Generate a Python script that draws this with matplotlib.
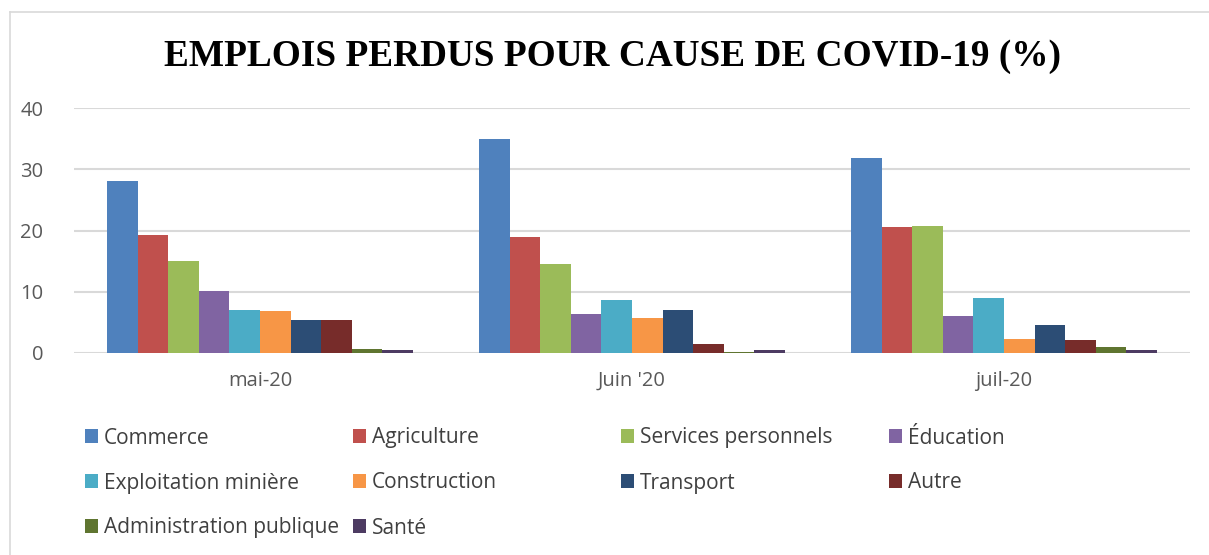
import numpy as np
import matplotlib.pyplot as plt
from matplotlib.lines import Line2D

# data
months = ["mai-20", "Juin '20", "juil-20"]
sectors = ["Commerce", "Agriculture", "Services personnels", "Éducation",
           "Exploitation minière", "Construction", "Transport", "Autre",
           "Administration publique", "Santé"]
commerce = [28.1, 34.9, 31.8]
agriculture = [19.3, 18.9, 20.5]
services = [15.1, 14.6, 20.7]
education = [10.2, 6.4, 6.0]
mines = [7.1, 8.6, 8.9]
construction = [6.8, 5.7, 2.3]
transport = [5.4, 7.0, 4.6]
autre = [5.4, 1.4, 2.1]
admin = [0.7, 0.2, 1.0]
sante = [0.5, 0.5, 0.5]
series = [commerce, agriculture, services, education, mines,
          construction, transport, autre, admin, sante]
colors = ["#4F81BD", "#C0504D", "#9BBB59", "#8064A2", "#4BACC6",
          "#F79646", "#2C4D75", "#772C2A", "#5F7530", "#4D3B62"]

plt.rcParams['font.family'] = ['Open Sans', 'DejaVu Sans']

fig = plt.figure(figsize=(12.09, 5.55), dpi=100)
ax = fig.add_axes([74/1209, 1-353/555, (1190-74)/1209, (353-108)/555])

x = np.arange(len(months))
w = 0.0821
bars = []
for i, (vals, c) in enumerate(zip(series, colors)):
    b = ax.bar(x + (i - 4.5) * w, vals, w, color=c, zorder=3)
    bars.append(b)

ax.set_xlim(-0.5, 2.5)
ax.set_ylim(0, 40)
ax.set_yticks([0, 10, 20, 30, 40])
ax.set_xticks(x)
ax.set_xticklabels(months)
ax.grid(axis='y', color='#d9d9d9', linewidth=1.5, zorder=0)
for s in ax.spines.values():
    s.set_visible(False)
ax.tick_params(length=0, labelsize=14.5, colors='#595959')
ax.tick_params(axis='y', pad=22)
ax.tick_params(axis='x', pad=13)

fig.text(613/1209, 1-56/555, "EMPLOIS PERDUS POUR CAUSE DE COVID-19 (%)",
         ha='center', va='center', fontsize=26.8, fontweight='bold',
         family='Liberation Serif')

# legend laid out like Excel: 4 equal columns, row-major
for k, (b, lab) in enumerate(zip(bars, sectors)):
    row, col = divmod(k, 4)
    xp = (85 + col * 268) / 1209
    yp = 1 - (438 + row * 45) / 555
    leg = fig.legend([b], [lab], loc='center left', bbox_to_anchor=(xp, yp),
                     frameon=False, fontsize=15, handlelength=0.62,
                     handleheight=0.62, handletextpad=0.3, borderpad=0,
                     borderaxespad=0)
    for t in leg.get_texts():
        t.set_color('#404040')

# chart frame (only left and top edges show)
fig.add_artist(Line2D([10/1209, 10/1209], [0, 1-12/555], color='#d9d9d9', lw=1.2))
fig.add_artist(Line2D([10/1209, 1], [1-12/555, 1-12/555], color='#d9d9d9', lw=1.2))

fig.savefig("out.png", dpi=100)
